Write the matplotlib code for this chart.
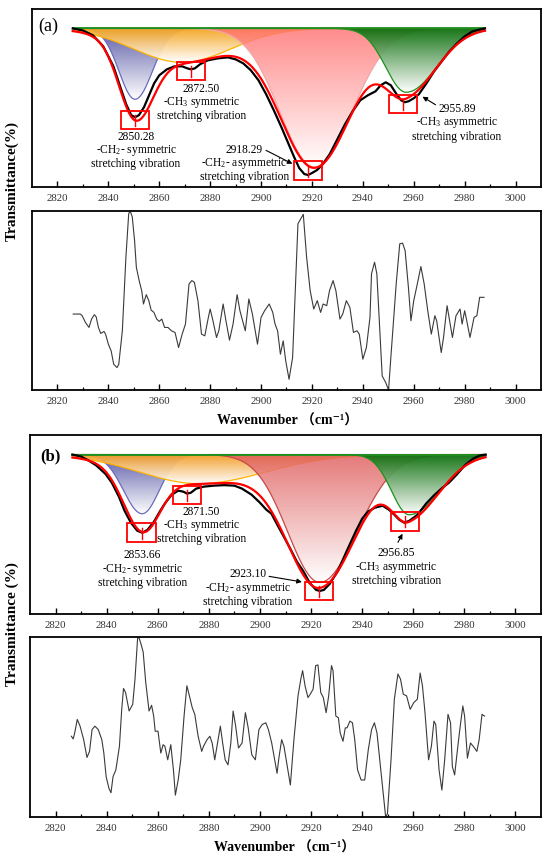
import numpy as np
import matplotlib
matplotlib.use("Agg")
import matplotlib.pyplot as plt
from matplotlib.colors import LinearSegmentedColormap
from matplotlib.patches import Rectangle
from matplotlib.path import Path

plt.rcParams['font.family'] = ['Liberation Serif', 'DejaVu Serif', 'Noto Sans CJK SC']
plt.rcParams['mathtext.fontset'] = 'custom'
plt.rcParams['mathtext.rm'] = 'Liberation Serif'
plt.rcParams['mathtext.it'] = 'Liberation Serif:italic'
plt.rcParams['mathtext.bf'] = 'Liberation Serif:bold'

# ---------------- data ----------------
# fitted components: centre (cm-1), depth (%T below baseline), left / right width
a_centers = [2850.5, 2869.0, 2921.0, 2957.0]
a_depths = [14.2, 6.8, 27.8, 12.8]
a_sig_l = [6.3, 19.0, 13.5, 8.0]
a_sig_r = [6.8, 19.0, 14.5, 12.0]

b_centers = [2853.9, 2876.0, 2923.4, 2958.4]
b_depths = [11.8, 5.8, 25.5, 12.0]
b_sig_l = [7.3, 23.0, 12.5, 6.9]
b_sig_r = [6.7, 26.0, 14.5, 12.0]

# measured spectra (a) and (b)
a_wn = [2826, 2830, 2834, 2838, 2842, 2845, 2847, 2849, 2850.5, 2852, 2854, 2856, 2858, 2860,
        2863, 2866, 2869, 2871, 2872.5, 2874, 2876, 2879, 2883, 2887, 2890, 2893, 2896, 2899,
        2902, 2905, 2908, 2911, 2913, 2915, 2917, 2918.5, 2920, 2922, 2924, 2927, 2930, 2933,
        2936, 2939, 2942, 2945, 2947, 2949, 2951, 2953, 2955, 2956.5, 2958, 2960, 2962, 2965,
        2968, 2971, 2974, 2977, 2980, 2983, 2986, 2988]
a_T = [100, 99.6, 98.6, 96.4, 92.4, 87.8, 84.8, 82.6, 82.2, 82.6, 84.2, 86.6, 89.0, 90.6,
       91.8, 92.4, 92.4, 92.0, 91.8, 92.0, 92.8, 93.6, 94.0, 94.2, 93.8, 93.0, 91.6, 89.6,
       86.8, 83.6, 80.2, 76.6, 74.2, 72.0, 70.8, 70.6, 71.0, 71.6, 72.6, 74.8, 77.8, 80.8,
       83.4, 85.6, 86.6, 87.4, 88.6, 89.2, 88.6, 87.0, 85.6, 85.2, 85.4, 86.0, 86.8, 89.0,
       91.4, 93.4, 95.4, 97.0, 98.4, 99.4, 99.8, 100]

b_wn = [2826.6, 2830, 2833, 2836, 2839.6, 2842, 2844.8, 2847, 2849.5, 2852, 2854, 2856, 2858.5,
        2861, 2863, 2865.5, 2868, 2870, 2871.5, 2873, 2875, 2878, 2882, 2886, 2890, 2893,
        2896.7, 2900, 2902.5, 2904.5, 2907, 2910, 2912.3, 2914.5, 2916.9, 2919.5, 2922, 2923.4,
        2925, 2927.3, 2930.5, 2934, 2937.6, 2940, 2942.2, 2945, 2948, 2950.5, 2952.6, 2954.5,
        2956.5, 2958.5, 2961.7, 2965, 2968, 2971, 2974, 2977, 2980.5, 2983.5, 2986, 2988.3]
b_T = [100, 99.6, 98.8, 97.8, 96.1, 94.4, 91.6, 88.8, 86.4, 84.8, 84.4, 85.0, 86.6,
       88.8, 90.4, 92.0, 92.8, 92.6, 92.2, 92.4, 93.2, 93.6, 93.8, 93.9, 93.8, 93.2,
       92.0, 90.4, 89.0, 88.2, 85.8, 83.0, 80.8, 78.6, 76.8, 74.4, 73.0, 72.8,
       73.0, 74.2, 76.8, 80.8, 84.8, 87.2, 88.6, 89.4, 89.8, 89.0, 88.0, 87.0,
       86.4, 86.8, 88.0, 90.2, 91.8, 93.2, 94.4, 96.0, 98.0, 99.2, 99.8, 100]

# second derivative spectra (arbitrary units)
a_d2_wn = [2826.2, 2829.0, 2829.7, 2831.0, 2832.4, 2833.4, 2834.5, 2835.2, 2836.1, 2837.0, 2838.3,
           2838.9, 2840.0, 2841.1, 2842.1, 2843.4, 2844.1, 2845.5, 2846.9, 2848.0, 2848.6, 2849.4,
           2850.3, 2851.0, 2852.1, 2853.1, 2853.8, 2854.9, 2855.9, 2856.8, 2857.9, 2859.0, 2860.0,
           2861.0, 2862.1, 2863.4, 2864.8, 2866.2, 2867.6, 2869.0, 2870.3, 2871.7, 2872.8, 2873.8,
           2875.2, 2876.6, 2877.9, 2879.3, 2880.0, 2881.1, 2882.5, 2883.4, 2885.1, 2886.2, 2887.6,
           2889.0, 2890.6, 2891.7, 2893.8, 2895.2, 2896.6, 2898.6, 2900.0, 2901.4, 2903.2, 2904.6,
           2905.5, 2906.5, 2907.6, 2908.7, 2909.7, 2911.0, 2912.4, 2914.5, 2915.6, 2916.6, 2917.9,
           2919.3, 2920.7, 2922.1, 2923.4, 2924.4, 2925.8, 2926.9, 2928.3, 2929.4, 2931.0, 2932.1,
           2933.5, 2934.9, 2936.3, 2937.7, 2938.6, 2940.0, 2941.4, 2942.8, 2943.4, 2944.6, 2945.5,
           2946.2, 2947.6, 2949.0, 2950.1, 2951.0, 2953.1, 2954.5, 2955.6, 2956.6, 2957.9, 2958.9,
           2960.0, 2961.4, 2962.8, 2964.1, 2965.5, 2966.9, 2968.3, 2969.0, 2970.8, 2971.7, 2973.1,
           2974.1, 2975.2, 2976.6, 2978.2, 2979.0, 2980.0, 2980.7, 2982.1, 2983.7, 2984.8, 2985.9,
           2987.6]
a_d2 = [-40, -40, -45, -65, -80, -55, -42, -48, -80, -98, -92,
        -100, -130, -150, -190, -200, -190, -90, 130, 260, 268, 250,
        180, 100, 60, 30, -10, 18, 0, -28, -35, -55, -62,
        -55, -80, -80, -90, -95, -140, -100, -70, 50, 60, 55,
        0, -100, -105, -50, -25, -60, -110, -90, -10, -60, -118,
        -70, 18, -30, -90, 5, -40, -130, -50, -30, -10, -35,
        -70, -90, -160, -120, -180, -235, -170, 230, 245, 258, 130,
        30, -25, 0, -35, -10, -15, 30, 60, 30, -55, -40,
        0, -20, -95, -90, -100, -175, -140, -50, 80, 115, 80,
        -20, -225, -245, -267, -170, 50, 170, 172, 150, 40, -60,
        0, 50, 102, 50, -30, -100, -45, -60, -155, -110, -15,
        -60, -110, -45, -25, -70, -30, -55, -110, -50, -45, 10,
        10]

b_d2_wn = [2826.2, 2826.9, 2827.5, 2828.5, 2829.6, 2831.0, 2832.3, 2833.3, 2834.3, 2835.4, 2836.7,
           2838.1, 2838.9, 2839.8, 2840.9, 2841.7, 2842.5, 2843.6, 2845.0, 2845.9, 2846.6, 2847.4,
           2848.8, 2850.2, 2851.1, 2852.1, 2852.6, 2853.6, 2854.3, 2855.3, 2856.6, 2857.6, 2858.4,
           2859.0, 2860.1, 2861.2, 2862.1, 2862.8, 2863.9, 2865.1, 2866.2, 2866.9, 2868.0, 2869.0,
           2870.3, 2871.4, 2872.4, 2873.5, 2874.5, 2875.8, 2877.2, 2877.9, 2879.3, 2880.4, 2881.3,
           2882.3, 2883.4, 2884.5, 2885.4, 2886.4, 2887.5, 2888.6, 2889.5, 2890.5, 2891.6, 2893.0,
           2894.3, 2895.4, 2896.8, 2898.2, 2899.6, 2900.9, 2902.3, 2903.3, 2904.6, 2906.7, 2907.4,
           2908.5, 2909.4, 2910.5, 2911.9, 2913.3, 2914.9, 2916.0, 2916.7, 2917.7, 2918.8, 2919.7,
           2920.8, 2921.8, 2922.7, 2923.8, 2924.8, 2925.9, 2926.9, 2928.0, 2928.6, 2929.7, 2930.7,
           2931.4, 2932.5, 2933.4, 2934.1, 2935.2, 2936.2, 2937.1, 2938.2, 2939.6, 2941.0, 2942.4,
           2943.7, 2944.8, 2945.8, 2946.9, 2948.1, 2949.2, 2949.9, 2951.3, 2952.6, 2954.0, 2955.0,
           2956.1, 2957.4, 2958.8, 2960.2, 2961.6, 2962.7, 2963.6, 2964.6, 2966.0, 2967.1, 2968.1,
           2968.8, 2970.1, 2971.2, 2972.3, 2973.6, 2974.6, 2975.3, 2976.2, 2977.3, 2978.3, 2979.4,
           2980.1, 2981.2, 2982.4, 2983.5, 2984.9, 2985.8, 2986.9, 2987.9]
b_d2 = [-30, -38, -20, 20, 0, -40, -93, -75, -10, 0, -10,
        -40, -80, -150, -185, -198, -150, -130, -60, 50, 112, 100,
        45, 65, 140, 260, 265, 240, 220, 130, 45, 62, 30,
        -15, -15, -80, -55, -60, -100, -55, -135, -205, -160, -100,
        30, 120, 90, 55, 35, -30, -75, -60, -40, -30, -50,
        -100, -50, 0, -50, -100, -115, -50, 45, 0, -65, -50,
        40, -5, -85, -100, -10, 5, 10, -10, -50, -140, -95,
        -40, -60, -110, -175, -40, 90, 140, 165, 118, 85, 95,
        110, 180, 182, 100, 85, 40, 90, 180, 165, 30, 25,
        -20, -45, -5, -5, 15, 10, -40, -130, -160, -160, -70,
        -10, 10, -20, -100, -190, -270, -260, -100, 80, 155, 140,
        95, 90, 50, 70, 80, 158, 120, 40, -100, -60, 15,
        5, -130, -190, -100, 35, 10, -120, -145, -70, -5, 60,
        30, -95, -50, -60, -75, -40, 35, 30]

# peak labels
a_peaks = [2850.28, 2872.50, 2918.29, 2955.89]
a_box_T = [81.6, 91.5, 71.5, 84.9]
b_peaks = [2853.66, 2871.50, 2923.10, 2956.85]
b_box_T = [84.4, 91.9, 72.8, 86.7]

assign = ['-CH$_2$- symmetric', '-CH$_3$ symmetric', '-CH$_2$- asymmetric', '-CH$_3$ asymmetric']

BASE = 100.0
XLIM = (2810, 3010)
YLIM = (68.2, 103.9)


def component(x, c, d, sl, sr):
    s = np.where(x < c, sl, sr)
    return d * np.exp(-0.5 * ((x - c) / s) ** 2)


def gradient_fill(ax, x, curve, color, alpha, z):
    verts = np.column_stack([np.r_[x, x[::-1]], np.r_[curve, np.full(len(x), BASE)]])
    path = Path(np.vstack([verts, verts[:1]]), closed=True)
    cmap = LinearSegmentedColormap.from_list('g', ['white', color])
    grad = np.linspace(0, 1, 256)[:, None]
    im = ax.imshow(grad, cmap=cmap, origin='lower', aspect='auto', alpha=alpha,
                   extent=[x[0], x[-1], curve.min(), BASE], zorder=z, interpolation='bilinear')
    im.set_clip_path(path, transform=ax.transData)


def style_axis(ax):
    ax.set_xlim(*XLIM)
    ax.set_xticks(np.arange(2820, 3001, 20))
    ax.set_xticks(np.arange(2820, 3010, 10), minor=True)
    ax.tick_params(axis='x', which='major', direction='in', length=4.3, width=1.0,
                   labelsize=7.8, labelcolor='#333333', pad=5)
    ax.tick_params(axis='x', which='minor', direction='in', length=2.2, width=0.9)
    ax.tick_params(axis='y', left=False, labelleft=False)
    for sp in ax.spines.values():
        sp.set_linewidth(1.3)


def fit_panel(ax, centers, depths, sl, sr, wn, T, fills, edges, alphas):
    xm = np.linspace(wn[0], wn[-1], 500)
    total = np.zeros_like(xm)
    for i in range(4):
        comp = component(xm, centers[i], depths[i], sl[i], sr[i])
        total += comp
        gradient_fill(ax, xm, BASE - comp, fills[i], alphas[i], 1 + i)
        ax.plot(xm, BASE - comp, color=edges[i], lw=0.9, zorder=1.5 + i)
    ax.plot([xm[0], xm[-1]], [BASE, BASE], color='#1f8f1f', lw=1.3, zorder=5)
    ax.plot(wn, T, color='black', lw=1.6, zorder=6)
    ax.plot(xm, BASE - total, color='#ff0000', lw=1.6, zorder=7)
    style_axis(ax)
    ax.set_ylim(*YLIM)


def peak_boxes(ax, peaks, box_T):
    for p, t in zip(peaks, box_T):
        ax.add_patch(Rectangle((p - 5.5, t - 1.85), 11, 3.7, fill=False, ec='red', lw=1.3, zorder=8))
        ax.plot([p, p], [t + 1.0, t - 1.2], color='red', lw=1.0, zorder=8)


def label(ax, x, y, lines, **kw):
    for k, s in enumerate(lines):
        ax.text(x, y - k * 2.75, s, ha='center', va='center', fontsize=8.3, zorder=9, **kw)


fig = plt.figure(figsize=(5.5, 8.61), dpi=100)

# ---------------- (a) ----------------
ax1 = fig.add_axes([32 / 550, 1 - 187 / 861, 509 / 550, 178 / 861])
fit_panel(ax1, a_centers, a_depths, a_sig_l, a_sig_r, a_wn, a_T,
          ['#5b5ba8', '#f5a31a', '#ff6f6f', '#0b6e0b'],
          ['#6a6ac0', '#ffb300', '#f0a8a8', '#1f8f1f'],
          [1.0, 0.95, 0.8, 0.95])
peak_boxes(ax1, a_peaks, a_box_T)
label(ax1, 2850.9, 78.3, ['%.2f' % a_peaks[0], assign[0], 'stretching vibration'])
label(ax1, 2876.5, 87.9, ['%.2f' % a_peaks[1], assign[1], 'stretching vibration'])
label(ax1, 2893.5, 75.7, ['%.2f' % a_peaks[2], assign[2], 'stretching vibration'])
label(ax1, 2977.0, 83.8, ['%.2f' % a_peaks[3], assign[3], 'stretching vibration'])
ax1.annotate('', xy=(2913.3, 72.6), xytext=(2901.0, 75.8),
             arrowprops=dict(arrowstyle='-|>', color='black', lw=0.8, mutation_scale=7), zorder=9)
ax1.annotate('', xy=(2962.5, 86.6), xytext=(2969.5, 84.4),
             arrowprops=dict(arrowstyle='-|>', color='black', lw=0.8, mutation_scale=7), zorder=9)
ax1.text(0.012, 0.905, '(a)', transform=ax1.transAxes, fontsize=13, ha='left', va='center')

ax2 = fig.add_axes([32 / 550, 1 - 390 / 861, 509 / 550, 179 / 861])
ax2.plot(a_d2_wn, a_d2, color='#3a3a3a', lw=0.8)
style_axis(ax2)
ax2.set_ylim(min(a_d2), max(a_d2))

# ---------------- (b) ----------------
ax3 = fig.add_axes([30 / 550, 1 - 614 / 861, 511 / 550, 179 / 861])
fit_panel(ax3, b_centers, b_depths, b_sig_l, b_sig_r, b_wn, b_T,
          ['#5b5ba8', '#f29a1e', '#e05c5c', '#0b6e0b'],
          ['#6a6ac0', '#ffb300', '#c84848', '#1f8f1f'],
          [1.0, 0.95, 0.82, 0.95])
peak_boxes(ax3, b_peaks, b_box_T)
label(ax3, 2854.0, 79.9, ['%.2f' % b_peaks[0], assign[0], 'stretching vibration'])
label(ax3, 2877.0, 88.6, ['%.2f' % b_peaks[1], assign[1], 'stretching vibration'])
label(ax3, 2895.3, 76.1, ['%.2f' % b_peaks[2], assign[2], 'stretching vibration'])
label(ax3, 2953.3, 80.3, ['%.2f' % b_peaks[3], assign[3], 'stretching vibration'])
ax3.annotate('', xy=(2917.5, 74.5), xytext=(2902.5, 75.8),
             arrowprops=dict(arrowstyle='-|>', color='black', lw=0.8, mutation_scale=7), zorder=9)
ax3.annotate('', xy=(2956.3, 84.7), xytext=(2953.5, 82.0),
             arrowprops=dict(arrowstyle='-|>', color='black', lw=0.8, mutation_scale=7), zorder=9)
ax3.text(0.02, 0.88, '(b)', transform=ax3.transAxes, fontsize=12, fontweight='bold',
         ha='left', va='center')

ax4 = fig.add_axes([30 / 550, 1 - 817 / 861, 511 / 550, 180 / 861])
ax4.plot(b_d2_wn, b_d2, color='#3a3a3a', lw=0.8)
style_axis(ax4)
ax4.set_ylim(min(b_d2), max(b_d2))

# shared axis titles
fig.text(12 / 550, 1 - 181 / 861, 'Transmittance(%)', rotation=90, ha='center', va='center',
         fontsize=11, fontweight='bold')
fig.text(12 / 550, 1 - 624 / 861, 'Transmittance (%)', rotation=90, ha='center', va='center',
         fontsize=11, fontweight='bold')
fig.text(288 / 550, 1 - 421 / 861, 'Wavenumber （cm⁻¹）', ha='center', va='center',
         fontsize=10, fontweight='bold')
fig.text(285 / 550, 1 - 848 / 861, 'Wavenumber （cm⁻¹）', ha='center', va='center',
         fontsize=10, fontweight='bold')

fig.savefig('out.png', dpi=100)
